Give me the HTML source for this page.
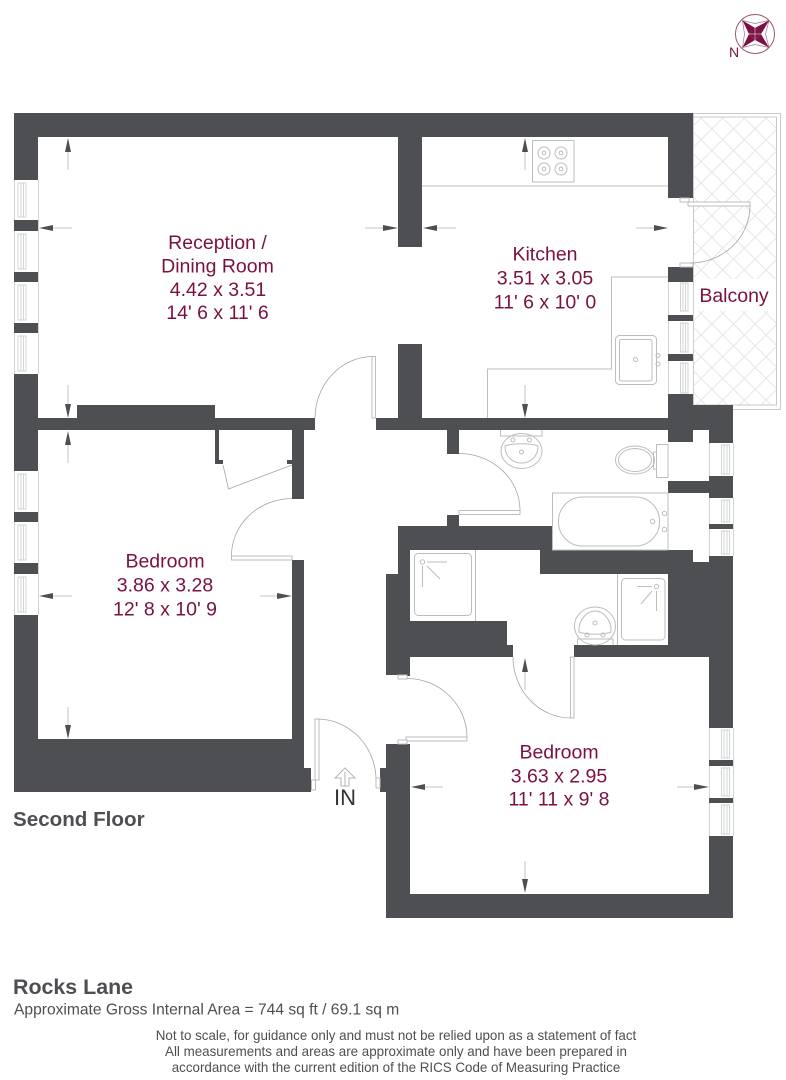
<!DOCTYPE html>
<html><head><meta charset="utf-8"><style>
html,body{margin:0;padding:0;background:#fff}
svg{display:block}
text{font-family:"Liberation Sans",sans-serif}
.r{fill:#7b1142;font-size:19.5px;text-anchor:middle}
.w{fill:#4d4f53;stroke:none}
.l{fill:none;stroke:#bcbdbf;stroke-width:1}
.win{fill:none;stroke:#cfd0d2;stroke-width:.9}
.d{fill:#fff;stroke:#bcbdbf;stroke-width:1}
.a{fill:none;stroke:#a5a5a7;stroke-width:.8}
.dim{stroke:#c2c3c5;stroke-width:1;fill:none}
.h{fill:#4d4f53}
</style></head><body>
<svg width="786" height="1080" viewBox="0 0 786 1080" xmlns="http://www.w3.org/2000/svg">
<defs>
<pattern id="lat" width="21.7" height="21.7" patternUnits="userSpaceOnUse" x="701" y="118">
<path d="M0 0L21.7 21.7M21.7 0L0 21.7" stroke="#e6e6e7" stroke-width="1" fill="none"/>
</pattern>
</defs>
<rect width="786" height="1080" fill="#fff"/>

<!-- balcony -->
<rect x="693.5" y="113.5" width="87" height="296" fill="#fff" stroke="#c8c9cb"/>
<rect x="693.5" y="117" width="83" height="288" fill="url(#lat)" stroke="#c8c9cb"/>
<rect x="694" y="279" width="82" height="32" fill="#fff"/>

<!-- walls -->
<g class="w">
<rect x="14" y="113" width="679" height="24"/>
<rect x="14" y="113" width="24" height="67"/>
<rect x="14" y="220" width="24" height="11"/>
<rect x="14" y="272" width="24" height="10"/>
<rect x="14" y="323" width="24" height="10"/>
<rect x="14" y="374" width="24" height="97"/>
<rect x="14" y="512" width="24" height="10"/>
<rect x="14" y="563" width="24" height="11"/>
<rect x="14" y="615" width="24" height="177"/>
<rect x="14" y="739" width="290" height="53"/>
<rect x="292" y="560" width="12" height="232"/>
<rect x="292" y="430" width="12" height="69"/>
<rect x="304" y="768" width="7" height="24"/>
<rect x="14" y="418" width="301" height="12"/>
<rect x="77" y="405" width="138" height="13"/>
<rect x="376" y="418" width="292" height="12"/>
<rect x="398" y="113" width="24" height="134"/>
<rect x="398" y="344" width="24" height="74"/>
<rect x="668" y="113" width="25" height="85"/>
<rect x="668" y="267" width="25" height="15"/>
<rect x="668" y="315" width="25" height="6"/>
<rect x="668" y="354" width="25" height="7"/>
<rect x="668" y="394" width="25" height="48"/>
<rect x="693" y="405" width="40" height="25"/>
<rect x="709" y="405" width="24" height="38"/>
<rect x="215" y="430" width="4" height="34"/>
<rect x="215" y="460" width="8" height="4"/>
<rect x="287" y="460" width="5" height="4"/>
<rect x="447" y="430" width="12" height="24"/>
<rect x="447" y="515" width="12" height="12"/>
<rect x="398" y="526" width="154" height="24"/>
<rect x="398" y="526" width="12" height="150"/>
<rect x="386" y="574" width="24" height="101"/>
<rect x="410" y="621" width="97" height="36"/>
<rect x="410" y="645" width="103" height="12"/>
<rect x="668" y="481" width="41" height="12"/>
<rect x="709" y="476" width="24" height="22"/>
<rect x="709" y="524" width="24" height="5"/>
<rect x="540" y="550" width="153" height="24"/>
<rect x="668" y="550" width="25" height="107"/>
<rect x="693" y="562" width="40" height="95"/>
<rect x="709" y="556" width="24" height="172"/>
<rect x="574" y="645" width="135" height="12"/>
<rect x="709" y="760" width="24" height="6"/>
<rect x="709" y="798" width="24" height="5"/>
<rect x="709" y="836" width="24" height="82"/>
<rect x="386" y="744" width="24" height="174"/>
<rect x="380" y="768" width="6" height="24"/>
<rect x="386" y="894" width="347" height="24"/>
</g>

<!-- windows -->
<g class="win">
<path d="M14.5 180V220M14.500 231V272M14.500 282V323M14.500 333V374M38.500 180V374"/>
<path d="M14.500 471V512M14.500 522V563M14.500 574V615M38.500 471V615"/>
<path d="M18 183H26V217H18ZM21 183V217M23.500 183V217"/>
<path d="M18 234H26V269H18ZM21 234V269M23.500 234V269"/>
<path d="M18 285H26V320H18ZM21 285V320M23.500 285V320"/>
<path d="M18 336H26V371H18ZM21 336V371M23.500 336V371"/>
<path d="M18 474H26V509H18ZM21 474V509M23.500 474V509"/>
<path d="M18 525H26V560H18ZM21 525V560M23.500 525V560"/>
<path d="M18 577H26V612H18ZM21 577V612M23.500 577V612"/>
<path d="M668.500 282V315M668.500 321V354M668.500 361V394M693.500 282V394"/>
<path d="M680.500 283H688V311H680.500ZM683 283V311M685.500 283V311"/>
<path d="M680.500 323H688V352H680.500ZM683 323V352M685.500 323V352"/>
<path d="M680.500 363H688V393H680.500ZM683 363V393M685.500 363V393"/>
<path d="M709.500 443V476M733.500 443V476M709.500 498V524M709.500 529V556M733.500 498V556"/>
<path d="M721.500 445H729.500V474H721.500ZM724 445V474M727 445V474"/>
<path d="M721.500 500H729.500V522H721.500ZM724 500V522M727 500V522"/>
<path d="M721.500 531H729.500V554H721.500ZM724 531V554M727 531V554"/>
<path d="M709.500 728V760M709.500 766V798M709.500 803V836M733.500 728V836"/>
<path d="M721.500 730H729.500V758H721.500ZM724 730V758M727 730V758"/>
<path d="M721.500 768H729.500V796H721.500ZM724 768V796M727 768V796"/>
<path d="M721.500 805H729.500V834H721.500ZM724 805V834M727 805V834"/>
</g>

<!-- doors -->
<g>
<rect class="d" x="372" y="356.500" width="3.500" height="61.500"/><path class="a" d="M372 356.500A58 62 0 0 0 315 418"/>
<rect class="d" x="231.500" y="556" width="60.500" height="4"/><path class="a" d="M231.500 556A61 57 0 0 1 292 498.500"/>
<rect class="d" x="315" y="719" width="4" height="61"/><rect class="d" x="311.500" y="780" width="4" height="10"/><path class="a" d="M318 719A59 61 0 0 1 376 780"/>
<rect class="d" x="376" y="778" width="4" height="10"/>
<rect class="d" x="459" y="510.500" width="61" height="4"/><path class="a" d="M459 453.500A61 57 0 0 1 520 510.500"/>
<rect class="d" x="570.500" y="657" width="3.500" height="61"/><path class="a" d="M570.500 718A58 61 0 0 1 513 657"/>
<rect class="d" x="398" y="675" width="9" height="4"/><rect class="d" x="406" y="737" width="61" height="4"/><rect class="d" x="398" y="740" width="9" height="4"/><path class="a" d="M407 678.500A60 59 0 0 1 467 737"/>
<rect class="d" x="688" y="202" width="62" height="4"/><rect class="d" x="680" y="198" width="9" height="4"/><rect class="d" x="680" y="263" width="13" height="4"/><path class="a" d="M750 206A60 57 0 0 1 690 263"/>
<path class="a" d="M292 465L228.500 489L223 465"/>
</g>

<!-- fittings -->
<g class="l">
<path d="M422 186H668"/>
<path d="M668 277H611.500V369H487.500V418"/>
<rect x="532.500" y="140.500" width="41.500" height="41.500"/>
<circle cx="544" cy="153" r="6"/><circle cx="544" cy="153" r="1.800"/><circle cx="561" cy="153" r="6"/><circle cx="561" cy="153" r="1.800"/>
<circle cx="544" cy="169" r="6"/><circle cx="544" cy="169" r="1.800"/><circle cx="561" cy="169" r="6"/><circle cx="561" cy="169" r="1.800"/>
<rect x="615.500" y="335.500" width="41" height="49" rx="4"/><rect x="619.500" y="339.500" width="32.500" height="41.500" rx="2"/>
<circle cx="635.500" cy="359.500" r="2"/><circle cx="658" cy="355.500" r="2"/><circle cx="658" cy="364" r="2"/>
<path d="M500.500 430V436H542V430"/>
<ellipse cx="521.500" cy="451" rx="20.500" ry="17.500"/>
<path d="M505 446C505 457 513 463 521.500 463C530 463 538 457 538 446C530 443 513 443 505 446Z"/>
<circle cx="513" cy="440" r="2"/><circle cx="529.500" cy="440" r="2"/><circle cx="521.500" cy="452" r="2"/>
<rect x="656.500" y="444.500" width="11.500" height="33"/>
<ellipse cx="635" cy="460" rx="19.500" ry="14"/>
<ellipse cx="635" cy="460" rx="16.500" ry="11.500"/>
<path d="M653 452H656.500M653 469H656.500M653.500 453V468"/>
<rect x="552.500" y="493" width="115.500" height="57"/>
<rect x="558.500" y="497" width="101" height="49" rx="24"/>
<circle cx="664.500" cy="513.500" r="2.200"/><circle cx="652.500" cy="521.500" r="2.200"/><circle cx="664.500" cy="529.500" r="2.200"/>
<path d="M475.500 550V621"/>
<rect x="414.500" y="553.500" width="57" height="62" rx="4"/>
<circle cx="422.500" cy="562" r="2.200"/><path d="M427 562H447M422.500 566V587M427 566L440 579"/>
<path d="M617.500 574V645"/>
<rect x="621.500" y="578.500" width="43.500" height="61.500" rx="4"/>
<circle cx="656.500" cy="586.500" r="2.200"/><path d="M652 586.500H637M656.500 591V611M652 591L641 604"/>
<path d="M577.500 645V639H613V645"/>
<ellipse cx="595" cy="626" rx="20.500" ry="19"/>
<path d="M579 632C578 620 587 611 595 611C603 611 612 620 611 632C603 635 587 635 579 632Z"/>
<circle cx="587" cy="635" r="2"/><circle cx="603" cy="635" r="2"/><circle cx="595" cy="623" r="2"/>
</g>

<!-- dimension lines -->
<g class="dim">
<path d="M68 150V170M68 385V406M68 443V463M68 707V727"/>
<path d="M51 228H72M365 228H385M51 596H72M260 596H279"/>
<path d="M525 150V170M525 385V406M435 228H456M636 228H656"/>
<path d="M423 787H443M677 787H696M525 861V881M525 670V690"/>
</g>
<g class="h">
<path d="M68 138L71 152H65Z"/><path d="M68 418L65 404H71Z"/><path d="M68 431L71 445H65Z"/><path d="M68 739L65 725H71Z"/>
<path d="M39 228L53 225V231Z"/><path d="M398 228L383 225V231Z"/>
<path d="M39 596L53 593V599Z"/><path d="M292 596L277 593V599Z"/>
<path d="M525 138L528 152H522Z"/><path d="M525 418L522 404H528Z"/>
<path d="M423 228L437 225V231Z"/><path d="M668 228L654 225V231Z"/>
<path d="M411 787L425 784V790Z"/><path d="M709 787L694 784V790Z"/>
<path d="M525 893L522 879H528Z"/><path d="M525 658L528 672H522Z"/>
</g>

<!-- IN -->
<path d="M345 768L355 778H349V786H341V778H335Z" fill="#fff" stroke="#b4b5b7" stroke-width="1"/>
<path d="M345 772V786" stroke="#b4b5b7" fill="none"/>
<text x="345" y="805" text-anchor="middle" font-size="22" fill="#333">IN</text>

<!-- labels -->
<text class="r" x="217.500" y="249">Reception /</text>
<text class="r" x="217.500" y="272.500">Dining Room</text>
<text class="r" x="218" y="296">4.42 x 3.51</text>
<text class="r" x="217.500" y="319">14' 6 x 11' 6</text>
<text class="r" x="545" y="260.500">Kitchen</text>
<text class="r" x="545" y="284.500">3.51 x 3.05</text>
<text class="r" x="545" y="308.500">11' 6 x 10' 0</text>
<text class="r" x="734" y="302">Balcony</text>
<text class="r" x="165" y="567.500">Bedroom</text>
<text class="r" x="165" y="591.500">3.86 x 3.28</text>
<text class="r" x="165" y="615.500">12' 8 x 10' 9</text>
<text class="r" x="559" y="758.500">Bedroom</text>
<text class="r" x="559" y="782.500">3.63 x 2.95</text>
<text class="r" x="559" y="805.500">11' 11 x 9' 8</text>

<text x="13" y="826" font-size="20.600" font-weight="bold" fill="#4d4f53">Second Floor</text>
<text x="13" y="994" font-size="21.400" font-weight="bold" fill="#4d4f53">Rocks Lane</text>
<text x="14" y="1014.500" font-size="15.600" fill="#4d4f53">Approximate Gross Internal Area = 744 sq ft / 69.1 sq m</text>
<g font-size="13.360" fill="#4d4f53" text-anchor="middle">
<text x="396" y="1040">Not to scale, for guidance only and must not be relied upon as a statement of fact</text>
<text x="396" y="1056">All measurements and areas are approximate only and have been prepared in</text>
<text x="396" y="1072">accordance with the current edition of the RICS Code of Measuring Practice</text>
</g>

<!-- compass -->
<circle cx="755" cy="34" r="19.500" fill="#fff" stroke="#9a5572" stroke-width="1"/>
<path d="M742.500 20.500L755 23.500L769 20.500L765.500 34L769 47.500L755 44.500L742.500 47.500L744.500 34Z" fill="none" stroke="#a9708a" stroke-width=".7"/>
<path d="M742.500 20.500L755 28L761 34L769 20.500L755 28L755 34Z" fill="#7b1142"/>
<path d="M742.500 20.500L755 28L749 34Z M769 20.500L761 34L755 28Z M769 47.500L755 40L761 34Z M742.500 47.500L749 34L755 40Z" fill="#7b1142"/>
<path d="M755 34L749 34L755 28L761 34L755 40L749 34" fill="#7b1142"/>
<path d="M755 28V40M749 34H761" stroke="#d9b8c6" stroke-width=".7" fill="none"/>
<text x="734" y="57" text-anchor="middle" font-size="14" fill="#7b1142">N</text>
</svg>
</body></html>
